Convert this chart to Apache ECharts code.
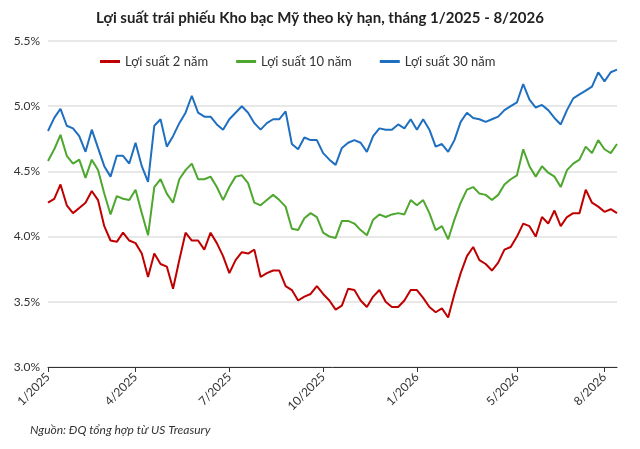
<!DOCTYPE html>
<html><head><meta charset="utf-8">
<script src="https://cdn.jsdelivr.net/npm/echarts@6/dist/echarts.min.js"></script>
<style>body{margin:0}#main{width:640px;height:449px}</style>
</head><body><div id="main"></div>
<script>
// Treasury yields, %, approx. weekly from 1/2025 to mid 8/2026
var y30 = [4.81,4.91,4.98,4.85,4.83,4.77,4.65,4.82,4.68,4.54,4.46,4.62,4.62,4.56,4.72,4.54,4.42,4.85,4.90,4.69,4.77,4.87,4.95,5.08,4.95,4.92,4.92,4.86,4.82,4.90,4.95,5.00,4.95,4.87,4.82,4.87,4.90,4.90,4.96,4.71,4.67,4.76,4.74,4.74,4.64,4.59,4.55,4.68,
  4.72,4.74,4.72,4.65,4.77,4.83,4.82,4.82,4.86,4.83,4.90,4.82,4.90,4.82,4.69,4.71,4.65,4.74,4.88,4.95,4.91,4.90,4.88,4.90,4.92,4.97,5.00,5.03,5.17,5.05,4.99,5.01,4.97,4.91,4.86,4.97,5.06,5.09,5.12,5.15,5.26,5.19,5.26,5.28];
var y10 = [4.58,4.67,4.78,4.62,4.56,4.59,4.45,4.59,4.51,4.33,4.17,4.31,4.29,4.28,4.36,4.18,4.01,4.38,4.44,4.33,4.26,4.44,4.51,4.56,4.44,4.44,4.46,4.38,4.28,4.38,4.46,4.47,4.41,4.26,4.24,4.28,4.32,4.28,4.23,4.06,4.05,4.14,4.18,4.15,4.03,4.00,3.99,4.12,
  4.12,4.10,4.05,4.01,4.13,4.17,4.15,4.17,4.18,4.17,4.28,4.24,4.28,4.18,4.05,4.08,3.98,4.13,4.26,4.36,4.38,4.33,4.32,4.28,4.32,4.40,4.44,4.47,4.67,4.54,4.46,4.54,4.49,4.46,4.38,4.51,4.56,4.59,4.69,4.64,4.74,4.67,4.64,4.71];
var y2 = [4.26,4.29,4.40,4.24,4.18,4.22,4.26,4.35,4.28,4.08,3.97,3.96,4.03,3.97,3.95,3.87,3.69,3.87,3.79,3.77,3.60,3.82,4.03,3.97,3.97,3.90,4.03,3.95,3.85,3.72,3.82,3.88,3.87,3.90,3.69,3.72,3.74,3.74,3.62,3.59,3.51,3.54,3.56,3.62,3.56,3.51,3.44,3.47,
  3.60,3.59,3.51,3.46,3.54,3.59,3.50,3.46,3.46,3.51,3.59,3.59,3.53,3.46,3.42,3.45,3.38,3.56,3.72,3.85,3.92,3.82,3.79,3.74,3.80,3.90,3.92,4.00,4.10,4.08,4.00,4.15,4.10,4.20,4.08,4.15,4.18,4.18,4.36,4.26,4.23,4.19,4.21,4.18];
var tickLabels = {0:'1/2025',14:'4/2025',29:'7/2025',44:'10/2025',59:'1/2026',75:'5/2026',89:'8/2026'};
var categories = [];
for (var i = 0; i < y10.length; i++) categories.push(tickLabels[i] || ('w' + i));

var chart = echarts.init(document.getElementById('main'));
var F = 'Lato';
chart.setOption({
  animation: false,
  textStyle: {fontFamily: F},
  title: {text: 'Lợi suất trái phiếu Kho bạc Mỹ theo kỳ hạn, tháng 1/2025 - 8/2026', left: 'center', top: 6,
    textStyle: {fontFamily: F, fontSize: 15, fontWeight: 'bold', color: '#222'}},
  legend: {top: 50, left: 95, itemWidth: 20, itemHeight: 3, itemGap: 28, icon: 'rect',
    textStyle: {fontFamily: F, fontSize: 13, color: '#333'}},
  grid: {left: 48, right: 23, top: 41, bottom: 82},
  xAxis: {type: 'category', data: categories, boundaryGap: false,
    axisLine: {lineStyle: {color: '#333'}},
    axisTick: {interval: function (i) { return tickLabels[i] !== undefined; }, lineStyle: {color: '#333'}},
    axisLabel: {rotate: 45, fontSize: 12, color: '#333', margin: 8,
      interval: function (i) { return tickLabels[i] !== undefined; }}},
  yAxis: {type: 'value', min: 3.0, max: 5.5, interval: 0.5,
    axisLabel: {fontSize: 12, color: '#333', formatter: function (v) { return v.toFixed(1) + '%'; }},
    splitLine: {lineStyle: {color: '#e0e0e0', width: 1.5}}},
  series: [
    {name: 'Lợi suất 2 năm', type: 'line', data: y2, showSymbol: false, lineStyle: {width: 2, color: '#c00000'}, itemStyle: {color: '#c00000'}},
    {name: 'Lợi suất 10 năm', type: 'line', data: y10, showSymbol: false, lineStyle: {width: 2, color: '#4ea72e'}, itemStyle: {color: '#4ea72e'}},
    {name: 'Lợi suất 30 năm', type: 'line', data: y30, showSymbol: false, lineStyle: {width: 2, color: '#1f6fc0'}, itemStyle: {color: '#1f6fc0'}}
  ],
  graphic: [{type: 'text', left: 30, top: 424,
    style: {text: 'Nguồn: ĐQ tổng hợp từ US Treasury', fontFamily: F, fontSize: 12, fontStyle: 'italic', fill: '#333'}}]
});
</script></body></html>
